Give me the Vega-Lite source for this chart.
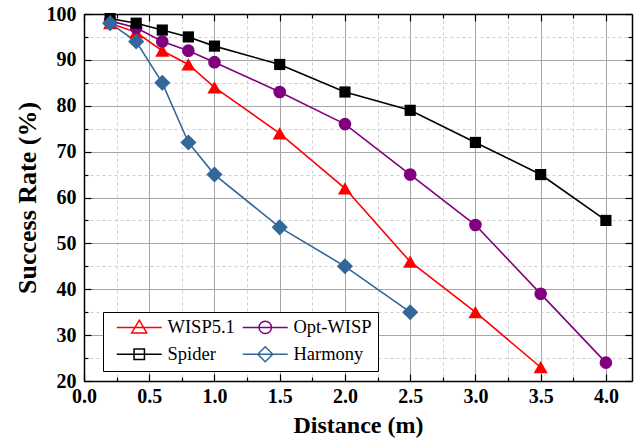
{
  "$schema": "https://vega.github.io/schema/vega-lite/v6.json",
  "width": 548,
  "height": 367,
  "autosize": {"type": "none"},
  "padding": {"left": 84, "top": 14, "right": 6, "bottom": 60},
  "background": "white",
  "config": {
    "view": {"stroke": null},
    "font": "Liberation Serif",
    "axis": {"labelFont": "Liberation Serif", "titleFont": "Liberation Serif"},
    "legend": {"labelFont": "Liberation Serif", "titleFont": "Liberation Serif"}
  },
  "data": {
    "values": [
      {"series": "WISP5.1", "d": 0.2, "rate": 98},
      {"series": "WISP5.1", "d": 0.4, "rate": 96},
      {"series": "WISP5.1", "d": 0.6, "rate": 92},
      {"series": "WISP5.1", "d": 0.8, "rate": 89},
      {"series": "WISP5.1", "d": 1.0, "rate": 84},
      {"series": "WISP5.1", "d": 1.5, "rate": 74},
      {"series": "WISP5.1", "d": 2.0, "rate": 62},
      {"series": "WISP5.1", "d": 2.5, "rate": 46},
      {"series": "WISP5.1", "d": 3.0, "rate": 35},
      {"series": "WISP5.1", "d": 3.5, "rate": 23},
      {"series": "Opt-WISP", "d": 0.2, "rate": 98.5},
      {"series": "Opt-WISP", "d": 0.4, "rate": 97},
      {"series": "Opt-WISP", "d": 0.6, "rate": 94},
      {"series": "Opt-WISP", "d": 0.8, "rate": 92},
      {"series": "Opt-WISP", "d": 1.0, "rate": 89.5},
      {"series": "Opt-WISP", "d": 1.5, "rate": 83},
      {"series": "Opt-WISP", "d": 2.0, "rate": 76},
      {"series": "Opt-WISP", "d": 2.5, "rate": 65},
      {"series": "Opt-WISP", "d": 3.0, "rate": 54},
      {"series": "Opt-WISP", "d": 3.5, "rate": 39},
      {"series": "Opt-WISP", "d": 4.0, "rate": 24},
      {"series": "Spider", "d": 0.2, "rate": 99},
      {"series": "Spider", "d": 0.4, "rate": 98},
      {"series": "Spider", "d": 0.6, "rate": 96.5},
      {"series": "Spider", "d": 0.8, "rate": 95},
      {"series": "Spider", "d": 1.0, "rate": 93},
      {"series": "Spider", "d": 1.5, "rate": 89},
      {"series": "Spider", "d": 2.0, "rate": 83},
      {"series": "Spider", "d": 2.5, "rate": 79},
      {"series": "Spider", "d": 3.0, "rate": 72},
      {"series": "Spider", "d": 3.5, "rate": 65},
      {"series": "Spider", "d": 4.0, "rate": 55},
      {"series": "Harmony", "d": 0.2, "rate": 98},
      {"series": "Harmony", "d": 0.4, "rate": 94},
      {"series": "Harmony", "d": 0.6, "rate": 85},
      {"series": "Harmony", "d": 0.8, "rate": 72},
      {"series": "Harmony", "d": 1.0, "rate": 65},
      {"series": "Harmony", "d": 1.5, "rate": 53.5},
      {"series": "Harmony", "d": 2.0, "rate": 45},
      {"series": "Harmony", "d": 2.5, "rate": 35}
    ]
  },
  "resolve": {"axis": {"x": "independent", "y": "independent"}},
  "layer": [
    {
      "mark": {"type": "line", "strokeWidth": 1.6},
      "encoding": {
        "x": {
          "field": "d", "type": "quantitative",
          "scale": {"domain": [0, 4.2], "nice": false, "zero": false},
          "axis": {
            "orient": "bottom",
            "values": [0, 0.25, 0.5, 0.75, 1, 1.25, 1.5, 1.75, 2, 2.25, 2.5, 2.75, 3, 3.25, 3.5, 3.75, 4],
            "labelExpr": "datum.value % 0.5 === 0 ? format(datum.value, '.1f') : ''",
            "labelFont": "Liberation Serif", "labelFontWeight": "bold", "labelFontSize": 20, "labelColor": "black",
            "labelPadding": 12, "labelOverlap": false, "labelFlush": false,
            "grid": true,
            "gridColor": {"condition": {"test": "datum.value % 0.5 === 0", "value": "#a6a6a6"}, "value": "#cfcfcf"},
            "gridDash": {"condition": {"test": "datum.value % 0.5 === 0", "value": []}, "value": [3, 3]},
            "gridWidth": 1,
            "tickSize": {"condition": {"test": "datum.value % 0.5 === 0", "value": -7}, "value": -4},
            "tickColor": "black", "tickWidth": 1.2,
            "domainColor": "black", "domainWidth": 1.5,
            "title": "Distance (m)", "titleFont": "Liberation Serif", "titleFontSize": 24, "titleFontWeight": "bold",
            "titleColor": "black", "titlePadding": 4
          }
        },
        "y": {
          "field": "rate", "type": "quantitative",
          "scale": {"domain": [20, 100], "nice": false, "zero": false},
          "axis": {
            "orient": "left",
            "values": [20, 25, 30, 35, 40, 45, 50, 55, 60, 65, 70, 75, 80, 85, 90, 95, 100],
            "labelExpr": "datum.value % 10 === 0 ? format(datum.value, 'd') : ''",
            "labelFont": "Liberation Serif", "labelFontWeight": "bold", "labelFontSize": 20, "labelColor": "black",
            "labelPadding": 15, "labelOverlap": false, "labelFlush": false,
            "grid": true,
            "gridColor": {"condition": {"test": "datum.value % 10 === 0", "value": "#a6a6a6"}, "value": "#cfcfcf"},
            "gridDash": {"condition": {"test": "datum.value % 10 === 0", "value": []}, "value": [3, 3]},
            "gridWidth": 1,
            "tickSize": {"condition": {"test": "datum.value % 10 === 0", "value": -7}, "value": -4},
            "tickColor": "black", "tickWidth": 1.2,
            "domainColor": "black", "domainWidth": 1.5,
            "title": "Success Rate (%)", "titleFont": "Liberation Serif", "titleFontSize": 26, "titleFontWeight": "bold",
            "titleColor": "black", "titlePadding": 6
          }
        },
        "stroke": {
          "field": "series", "type": "nominal",
          "scale": {"domain": ["WISP5.1", "Opt-WISP", "Spider", "Harmony"], "range": ["#ff0000", "#800080", "#000000", "#336699"]}
        }
      }
    },
    {
      "transform": [{"filter": "datum.series === 'WISP5.1'"}],
      "mark": {"type": "point", "filled": true, "opacity": 1, "shape": "triangle-up", "size": 200, "color": "#ff0000"},
      "encoding": {
        "x": {
          "field": "d", "type": "quantitative",
          "axis": {
            "orient": "top",
            "values": [0, 0.25, 0.5, 0.75, 1, 1.25, 1.5, 1.75, 2, 2.25, 2.5, 2.75, 3, 3.25, 3.5, 3.75, 4],
            "labels": false, "grid": false, "title": null,
            "tickSize": {"condition": {"test": "datum.value % 0.5 === 0", "value": -7}, "value": -4},
            "tickColor": "black", "tickWidth": 1.2,
            "domainColor": "black", "domainWidth": 1.5
          }
        },
        "y": {
          "field": "rate", "type": "quantitative",
          "axis": {
            "orient": "right",
            "values": [20, 25, 30, 35, 40, 45, 50, 55, 60, 65, 70, 75, 80, 85, 90, 95, 100],
            "labels": false, "grid": false, "title": null,
            "tickSize": {"condition": {"test": "datum.value % 10 === 0", "value": -7}, "value": -4},
            "tickColor": "black", "tickWidth": 1.2,
            "domainColor": "black", "domainWidth": 1.5
          }
        }
      }
    },
    {
      "transform": [{"filter": "datum.series === 'Opt-WISP'"}],
      "mark": {"type": "point", "filled": true, "opacity": 1, "shape": "circle", "size": 160, "color": "#800080"},
      "encoding": {
        "x": {"field": "d", "type": "quantitative", "axis": null},
        "y": {"field": "rate", "type": "quantitative", "axis": null}
      }
    },
    {
      "transform": [{"filter": "datum.series === 'Spider'"}],
      "mark": {"type": "point", "filled": true, "opacity": 1, "shape": "square", "size": 125, "color": "#000000"},
      "encoding": {
        "x": {"field": "d", "type": "quantitative", "axis": null},
        "y": {"field": "rate", "type": "quantitative", "axis": null}
      }
    },
    {
      "transform": [{"filter": "datum.series === 'Harmony'"}],
      "mark": {"type": "point", "filled": true, "opacity": 1, "shape": "diamond", "size": 260, "color": "#336699"},
      "encoding": {
        "x": {"field": "d", "type": "quantitative", "axis": null},
        "y": {"field": "rate", "type": "quantitative", "axis": null}
      }
    },
    {
      "mark": {"type": "point", "filled": true, "opacity": 0, "strokeWidth": 1.5},
      "encoding": {
        "x": {"field": "d", "type": "quantitative", "axis": null},
        "y": {"field": "rate", "type": "quantitative", "axis": null},
        "stroke": {"field": "series", "type": "nominal"},
        "color": {
          "field": "series", "type": "nominal",
          "scale": {"domain": ["WISP5.1", "Opt-WISP", "Spider", "Harmony"], "range": ["#ff0000", "#800080", "#000000", "#336699"]}
        },
        "shape": {
          "field": "series", "type": "nominal",
          "scale": {
            "domain": ["WISP5.1", "Opt-WISP", "Spider", "Harmony"],
            "range": [
              "M-3.46,0H3.46M0,-1.1L1.15,0.85L-1.15,0.85Z",
              "M-3.46,0H3.46M-0.95,0A0.95,0.95,0,1,1,0.95,0A0.95,0.95,0,1,1,-0.95,0Z",
              "M-3.46,0H3.46M-0.8,-0.8H0.8V0.8H-0.8Z",
              "M-3.46,0H3.46M0,-1.15L1.15,0L0,1.15L-1.15,0Z"
            ]
          },
          "legend": {
            "orient": "none", "legendX": 19, "legendY": 298,
            "columns": 2, "direction": "horizontal", "title": null,
            "strokeColor": "black", "fillColor": "white", "padding": 6,
            "labelFont": "Liberation Serif", "labelFontSize": 18.5, "labelColor": "black",
            "symbolSize": 169, "symbolOffset": 21, "labelOffset": 19,
            "symbolStrokeWidth": 1.5, "symbolOpacity": 1,
            "columnPadding": 0, "rowPadding": 6
          }
        }
      }
    }
  ]
}
